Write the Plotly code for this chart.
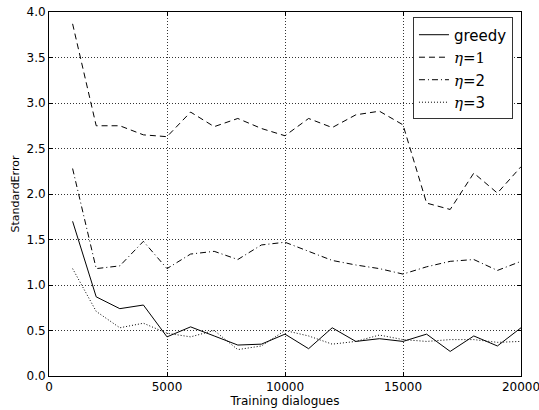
import plotly.graph_objects as go

x = [1000, 2000, 3000, 4000, 5000, 6000, 7000, 8000, 9000, 10000,
     11000, 12000, 13000, 14000, 15000, 16000, 17000, 18000, 19000, 20000]
greedy = [1.70, 0.87, 0.74, 0.78, 0.43, 0.54, 0.44, 0.34, 0.35, 0.46,
          0.30, 0.53, 0.38, 0.41, 0.38, 0.46, 0.27, 0.44, 0.33, 0.53]
eta1 = [3.87, 2.75, 2.75, 2.65, 2.63, 2.90, 2.74, 2.83, 2.72, 2.64,
        2.83, 2.73, 2.87, 2.91, 2.76, 1.90, 1.83, 2.23, 2.01, 2.30]
eta2 = [2.28, 1.18, 1.21, 1.48, 1.18, 1.34, 1.37, 1.28, 1.44, 1.47,
        1.37, 1.27, 1.22, 1.18, 1.12, 1.20, 1.26, 1.28, 1.16, 1.26]
eta3 = [1.18, 0.71, 0.53, 0.58, 0.47, 0.43, 0.50, 0.29, 0.33, 0.50,
        0.44, 0.35, 0.38, 0.45, 0.40, 0.38, 0.40, 0.40, 0.37, 0.38]

ETA = '<span style="font-family:DejaVu Serif"><i>η</i></span>'
series = [
    ("greedy", greedy, "solid"),
    (ETA + '<span style="font-family:DejaVu Serif">=1</span>', eta1, "6px,4px"),
    (ETA + "=2", eta2, "6px,3px,1px,3px"),
    (ETA + "=3", eta3, "1px,2px"),
]

fig = go.Figure()
for name, ys, dash in series:
    fig.add_trace(go.Scatter(x=x, y=ys, mode="lines", name=name,
                             line=dict(color="black", width=1, dash=dash)))

axis_common = dict(
    showline=True, linecolor="black", linewidth=1, mirror="ticks",
    ticks="inside", ticklen=4, tickcolor="black",
    showgrid=True, gridcolor="#333333", griddash="1px,2px", gridwidth=1,
    zeroline=False, automargin=False, ticklabeloverflow="allow",
    tickfont=dict(family="DejaVu Sans", size=12, color="black"),
)
fig.update_xaxes(range=[0, 20000], tickvals=[0, 5000, 10000, 15000, 20000],
                 ticktext=["0", "5000", "10000", "15000", "20000"],
                 title=dict(text="Training dialogues", standoff=2,
                            font=dict(family="DejaVu Sans", size=12, color="black")),
                 **axis_common)
fig.update_yaxes(range=[0, 4.0], tickvals=[0, 0.5, 1.0, 1.5, 2.0, 2.5, 3.0, 3.5, 4.0],
                 ticktext=["0.0", "0.5", "1.0", "1.5", "2.0", "2.5", "3.0", "3.5", "4.0"],
                 title=dict(text="StandardError", standoff=4,
                            font=dict(family="DejaVu Sans", size=11, color="black")),
                 **axis_common)
fig.update_layout(
    width=539, height=410,
    margin=dict(l=49, r=18, t=12, b=34),
    plot_bgcolor="white", paper_bgcolor="white",
    font=dict(family="DejaVu Sans", size=12, color="black"),
    legend=dict(x=0.983, y=0.985, xanchor="right", yanchor="top",
                bgcolor="white", bordercolor="#333333", borderwidth=1,
                font=dict(family="DejaVu Sans", size=15), tracegroupgap=0),
)
fig.write_html("out.html", config={"displayModeBar": False},
               post_script="document.body.style.margin='0';document.body.style.padding='0';")
